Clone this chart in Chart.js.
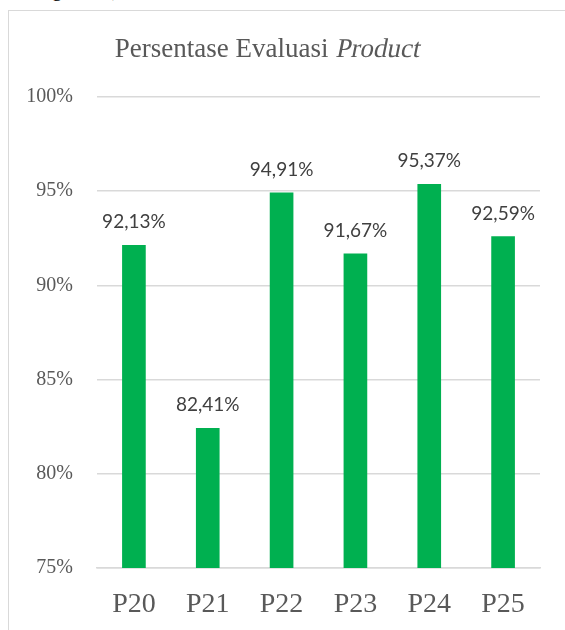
<!DOCTYPE html>
<html>
<head>
<meta charset="utf-8">
<script src="https://cdn.jsdelivr.net/npm/chart.js@4.4.1/dist/chart.umd.min.js"></script>
<style>
  html, body { margin: 0; padding: 0; background: #fff; width: 565px; height: 630px; overflow: hidden; }
  #frame { position: absolute; left: 8px; top: 10px; width: 620px; height: 700px; border: 1.5px solid #d9d9d9; box-sizing: border-box; }
  #cut { position: absolute; left: 52px; top: -21px; font: 20px "Liberation Serif", serif; line-height: 20px; color: #000; white-space: nowrap; }
  #wrap { position: absolute; left: 0; top: 0; width: 565px; height: 630px; }
</style>
</head>
<body>
<div id="cut">g, 2023)</div>
<div id="frame"></div>
<div id="wrap"><canvas id="c" width="565" height="630"></canvas></div>
<script>
const categories = ["P20", "P21", "P22", "P23", "P24", "P25"];
const values = [92.13, 82.41, 94.91, 91.67, 95.37, 92.59];
const yTicks = [75, 80, 85, 90, 95, 100];
const titleParts = [["Persentase Evaluasi ", false], ["Product", true]];

const titlePlugin = {
  id: 'titlePlugin',
  afterDraw(chart) {
    const ctx = chart.ctx;
    ctx.save();
    ctx.fillStyle = '#595959';
    ctx.textBaseline = 'alphabetic';
    ctx.textAlign = 'left';
    ctx.font = '27px "Liberation Serif", serif';
    const widths = titleParts.map(([t]) => ctx.measureText(t).width);
    const total = widths.reduce((a, b) => a + b, 0);
    let x = 267 - total / 2;
    const baseY = 57;
    titleParts.forEach(([t, it], i) => {
      if (it) {
        ctx.save();
        ctx.translate(x, baseY);
        ctx.transform(1, 0, -0.2, 1, 0, 0);
        ctx.fillText(t, 0, 0);
        ctx.restore();
      } else {
        ctx.fillText(t, x, baseY);
      }
      x += widths[i];
    });
    ctx.restore();
  }
};

const labelPlugin = {
  id: 'labelPlugin',
  afterDatasetsDraw(chart) {
    const ctx = chart.ctx;
    const meta = chart.getDatasetMeta(0);
    ctx.save();
    ctx.font = '19px Lato, sans-serif';
    ctx.fillStyle = '#404040';
    ctx.textAlign = 'center';
    ctx.textBaseline = 'alphabetic';
    meta.data.forEach((bar, i) => {
      const v = chart.data.datasets[0].data[i];
      ctx.fillText(v.toFixed(2).replace('.', ',') + '%', bar.x, bar.y - 17);
    });
    ctx.restore();
  }
};

new Chart(document.getElementById('c'), {
  type: 'bar',
  data: {
    labels: categories,
    datasets: [{
      data: values,
      backgroundColor: '#00B050',
      borderWidth: 0,
      barThickness: 23
    }]
  },
  options: {
    responsive: false,
    animation: false,
    events: [],
    layout: { padding: { left: 0, top: 97, right: 25, bottom: 0 } },
    plugins: { legend: { display: false }, tooltip: { enabled: false }, title: { display: false } },
    scales: {
      x: {
        grid: { display: false },
        border: { display: true, color: '#d9d9d9', width: 1.5 },
        ticks: { color: '#595959', font: { family: '"Liberation Serif", serif', size: 28 }, padding: 12 },
        afterFit(scale) { scale.height = 62; }
      },
      y: {
        min: 75, max: 100,
        afterBuildTicks(scale) { scale.ticks = yTicks.map(v => ({ value: v })); },
        grid: { color: '#d9d9d9', lineWidth: 1.5, drawTicks: false },
        border: { display: false },
        ticks: { color: '#595959', font: { family: '"Liberation Serif", serif', size: 20 }, padding: 24, callback: v => v + '%' },
        afterFit(scale) { scale.width = 97; }
      }
    }
  },
  plugins: [titlePlugin, labelPlugin]
});
</script>
</body>
</html>
